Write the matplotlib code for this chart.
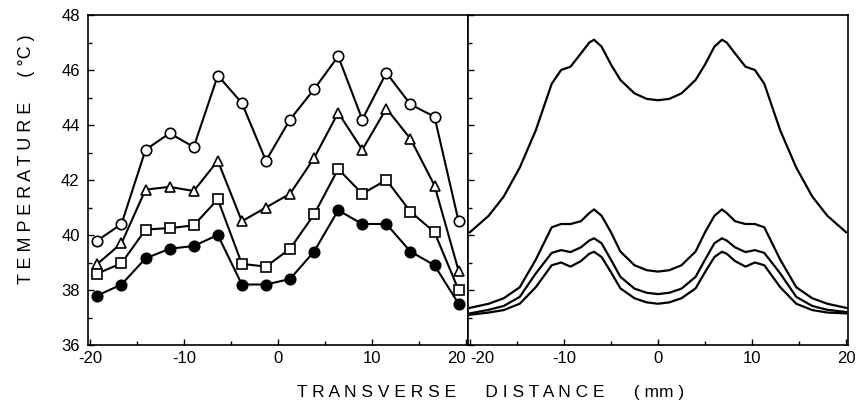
import matplotlib.pyplot as plt
from matplotlib.ticker import MultipleLocator

plt.rcParams['font.family'] = ['Liberation Sans', 'DejaVu Sans']

# measured points (left panel)
x_pts = [-19.2, -16.64, -14.08, -11.52, -8.96, -6.4, -3.84, -1.28,
         1.28, 3.84, 6.4, 8.96, 11.52, 14.08, 16.64, 19.2]
t_circle = [39.8, 40.4, 43.1, 43.7, 43.2, 45.8, 44.8, 42.7,
            44.2, 45.3, 46.5, 44.2, 45.9, 44.75, 44.3, 40.5]
t_triangle = [38.95, 39.7, 41.65, 41.75, 41.6, 42.7, 40.5, 41.0,
              41.5, 42.8, 44.45, 43.1, 44.6, 43.5, 41.8, 38.7]
t_square = [38.6, 38.97, 40.2, 40.25, 40.35, 41.3, 38.95, 38.85,
            39.5, 40.75, 42.4, 41.5, 42.0, 40.85, 40.1, 38.0]
t_filled = [37.8, 38.2, 39.15, 39.5, 39.6, 40.0, 38.2, 38.2,
            38.4, 39.4, 40.9, 40.4, 40.4, 39.4, 38.9, 37.5]

# computed profiles (right panel)
x_calc = [-20, -18, -16.4, -14.7, -13, -11.3, -10.3, -9.3, -8.2, -7.3, -6.8,
          -6.0, -5.0, -4.0, -2.5, -1.2, 0, 1.2, 2.5, 4.0, 5.0, 6.0, 6.8, 7.3,
          8.2, 9.3, 10.3, 11.3, 13, 14.7, 16.4, 18, 20]
c1 = [40.1, 40.7, 41.4, 42.45, 43.8, 45.5, 46.0, 46.12, 46.6, 47.0, 47.1,
      46.85, 46.2, 45.64, 45.15, 44.95, 44.9, 44.95, 45.15, 45.64, 46.2, 46.85,
      47.1, 47.0, 46.6, 46.12, 46.0, 45.5, 43.8, 42.45, 41.4, 40.7, 40.1]
c2 = [37.35, 37.5, 37.7, 38.1, 39.1, 40.28, 40.4, 40.4, 40.5, 40.8, 40.93,
      40.7, 40.1, 39.4, 38.9, 38.72, 38.67, 38.72, 38.9, 39.4, 40.1, 40.7,
      40.93, 40.8, 40.5, 40.4, 40.4, 40.28, 39.1, 38.1, 37.7, 37.5, 37.35]
c3 = [37.15, 37.28, 37.42, 37.75, 38.6, 39.35, 39.45, 39.38, 39.55, 39.8, 39.88,
      39.7, 39.1, 38.48, 38.05, 37.9, 37.85, 37.9, 38.05, 38.48, 39.1, 39.7,
      39.88, 39.8, 39.55, 39.38, 39.45, 39.35, 38.6, 37.75, 37.42, 37.28, 37.2]
c4 = [37.1, 37.18, 37.27, 37.5, 38.1, 38.9, 39.0, 38.85, 39.05, 39.32, 39.39,
      39.2, 38.65, 38.06, 37.7, 37.55, 37.5, 37.55, 37.7, 38.06, 38.65, 39.2,
      39.39, 39.32, 39.05, 38.85, 39.0, 38.9, 38.1, 37.5, 37.27, 37.18, 37.15]

fig = plt.figure(figsize=(8.58, 4.19), dpi=100)
ax1 = fig.add_axes([88/858, 74/419, 380/858, 330/419])
ax2 = fig.add_axes([468/858, 74/419, 380/858, 330/419])

mk = dict(color='black', lw=1.5, markersize=7.5, markeredgewidth=1.2,
          markeredgecolor='black')
ax1.plot(x_pts, t_circle, marker='o', markerfacecolor='white', **mk)
ax1.plot(x_pts, t_triangle, marker='^', markerfacecolor='white', **mk)
ax1.plot(x_pts, t_square, marker='s', markerfacecolor='white', **mk)
ax1.plot(x_pts, t_filled, marker='o', markerfacecolor='black', **mk)

for c in [c1, c2, c3, c4]:
    ax2.plot(x_calc, c, color='black', lw=1.6)

for ax in [ax1, ax2]:
    ax.set_xlim(-20.2, 20.2)
    ax.set_ylim(36, 48)
    ax.xaxis.set_major_locator(MultipleLocator(10))
    ax.xaxis.set_minor_locator(MultipleLocator(5))
    ax.yaxis.set_major_locator(MultipleLocator(2))
    ax.yaxis.set_minor_locator(MultipleLocator(1))
    ax.tick_params(which='both', direction='in', top=False, right=False,
                   width=1.0, labelsize=12, colors='black')
    ax.tick_params(which='major', length=4)
    ax.tick_params(which='minor', length=3)
    ax.tick_params(axis='y', pad=6)
    ax.tick_params(axis='x', pad=4)
    for s in ax.spines.values():
        s.set_linewidth(1.2)

ax1.set_xticks([-20, -10, 0, 10, 20])
ax1.set_xticklabels(['-20', '-10', '0', '10', '20'])
ax2.set_xticks([-20, -10, 0, 10, 20])
ax2.set_xticklabels(['-20', '-10', '0', '10', '20'])
ax2.tick_params(axis='y', labelleft=False)
# the "20-20" labels at the shared edge sit side by side
ax1.get_xticklabels()[-1].set_ha('right')
ax2.get_xticklabels()[0].set_ha('left')

fig.text(0.031, 0.62, 'T E M P E R A T U R E     ( °C )', rotation=90,
         ha='center', va='center', fontsize=13)
fig.text(0.572, 0.064, 'T R A N S V E R S E      D I S T A N C E      ( mm )',
         ha='center', va='center', fontsize=12.5)

fig.savefig('out.png', dpi=100)
